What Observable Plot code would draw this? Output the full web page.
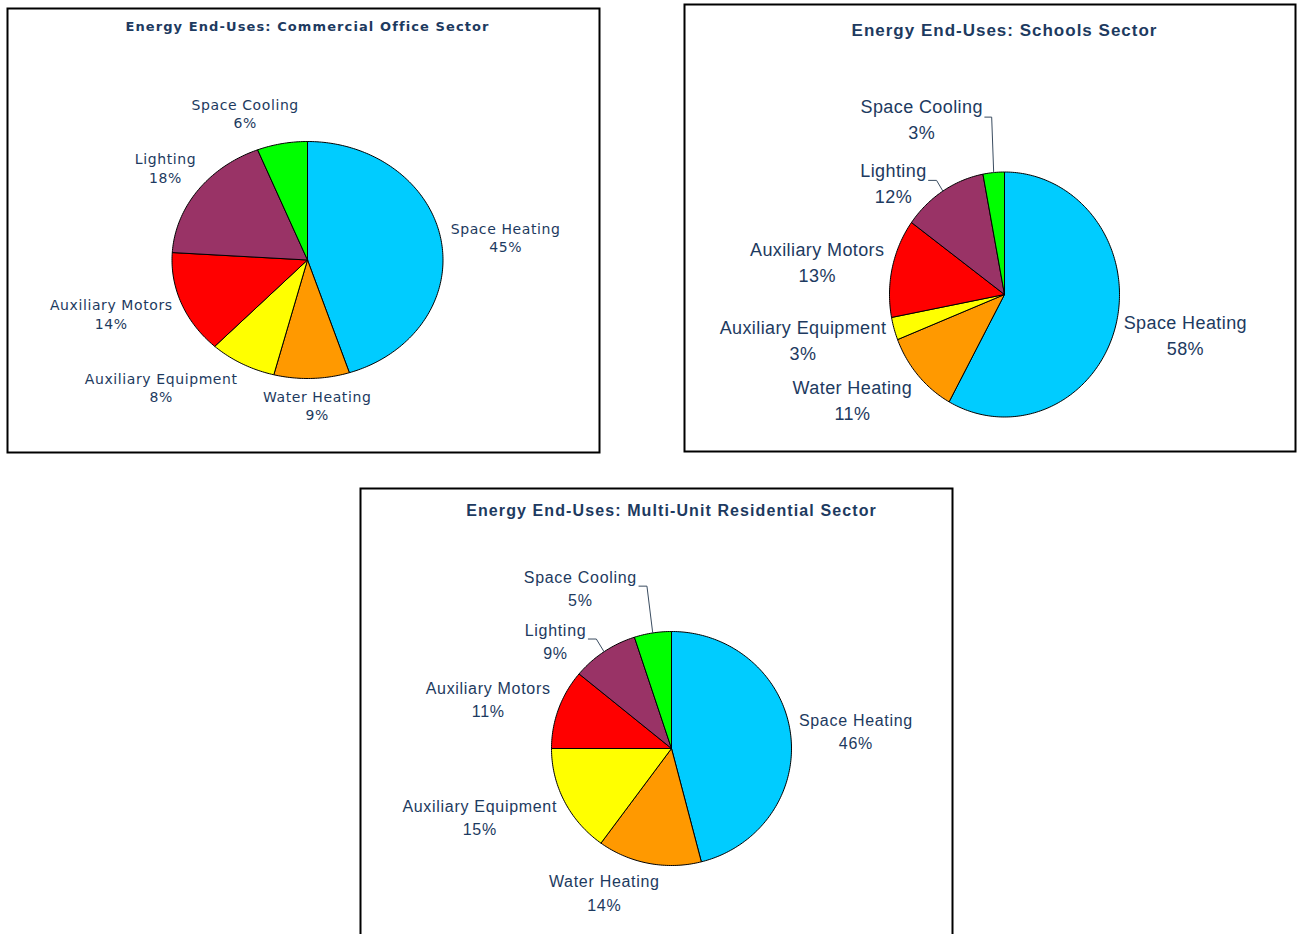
<!DOCTYPE html>
<html><head><meta charset="utf-8">
<script src="https://cdn.jsdelivr.net/npm/d3@7"></script>
<script src="https://cdn.jsdelivr.net/npm/@observablehq/plot@0.6"></script>
<style>
html,body{margin:0;padding:0;background:#fff;overflow:hidden;}
#page{position:relative;width:1297px;height:934px;overflow:hidden;background:#fff;}
#page svg{position:absolute;background:transparent;}
</style></head><body><div id="page"></div>
<script>
// ---- data ----
const categories = ["Space Heating","Water Heating","Auxiliary Equipment","Auxiliary Motors","Lighting","Space Cooling"];
const sliceColors = ["#00CCFF","#FF9900","#FFFF00","#FF0000","#993366","#00FF00"];
const officeValues = [45,9,8,14,18,6];
const schoolsValues = [58,11,3,13,12,3];
const residentialValues = [46,14,15,11,9,5];
const chartTitles = ["Energy End-Uses: Commercial Office Sector","Energy End-Uses: Schools Sector","Energy End-Uses: Multi-Unit Residential Sector"];

// ---- layout / style ----
const textColor = "#1d3a60";
const panels = [
  {values: officeValues, title: chartTitles[0], box:[7,8,599,452], cx:307, cy:259.5, rx:135.5, ry:118.5, titleY:26,
   titleFont:{family:"DejaVu Sans", size:13, weight:"bold", ls:1.1},
   labelFont:{family:"DejaVu Sans", size:14, weight:"normal", ls:0.6, lh:18.5},
   nudge:{"Lighting":[6,-7], "Space Cooling":[-5,-4]}, leaders:false},
  {values: schoolsValues, title: chartTitles[1], box:[684,4,1295,451], cx:1004, cy:294, rx:115, ry:122.5, titleY:30,
   titleFont:{family:"Liberation Sans", size:17, weight:"bold", ls:1.0},
   labelFont:{family:"Liberation Sans", size:18, weight:"normal", ls:0.4, lh:26},
   nudge:{"Space Cooling":[-54,-20], "Lighting":[-12,19.5]}, leaders:true},
  {values: residentialValues, title: chartTitles[2], box:[360,488,952,1000], cx:671, cy:748, rx:120, ry:117, titleY:510,
   titleFont:{family:"Liberation Sans", size:16, weight:"bold", ls:1.1},
   labelFont:{family:"Liberation Sans", size:16, weight:"normal", ls:0.7, lh:23.5},
   nudge:{"Space Cooling":[-44.5,-14.5], "Lighting":[-13,14.5], "Water Heating":[-12,-3]}, leaders:true}
];
const leaderCats = ["Space Cooling","Lighting"];
const labelRadius = 1.07;

const ctx = document.createElement("canvas").getContext("2d");
function measure(str, f){
  ctx.font = `${f.weight} ${f.size}px "${f.family}"`;
  return ctx.measureText(str).width + f.ls*str.length;
}
const clamp = v => Math.max(-1, Math.min(1, v));

const page = document.getElementById("page");
for (const p of panels) {
  const [x0,y0,x1,y1] = p.box;
  const W = x1-x0, H = y1-y0;
  const ox = x0-1, oy = y0-1;
  const sx = p.cx-ox, sy = p.cy-oy;
  const rows = categories.map((c,i)=>({category:c, value:p.values[i]}));
  const arcs = d3.pie().sort(null).value(d=>d.value).startAngle(0).endAngle(2*Math.PI)(rows);

  // slice outlines (unit-circle data coords, scales map to ellipse)
  const slicePts = [];
  for (const a of arcs) {
    const c = a.data.category;
    slicePts.push({category:c, x:0, y:0});
    const n = Math.max(2, Math.ceil((a.endAngle-a.startAngle)/(Math.PI/180)));
    for (let k=0;k<=n;k++){
      const t = a.startAngle + (a.endAngle-a.startAngle)*k/n;
      slicePts.push({category:c, x:Math.sin(t), y:Math.cos(t)});
    }
    slicePts.push({category:c, x:0, y:0});
  }

  // labels
  const f = p.labelFont;
  const toX = px => (px - sx)/p.rx, toY = py => (sy - py)/p.ry;
  const labels = [], leaders = [];
  for (const a of arcs) {
    const c = a.data.category;
    const m = (a.startAngle+a.endAngle)/2;
    const s = Math.sin(m), co = Math.cos(m);
    const text = c + "\n" + a.data.value + "%";
    const w = Math.max(measure(c,f), measure(a.data.value+"%",f));
    const h = 2*f.lh;
    const Px = sx + p.rx*labelRadius*s, Py = sy - p.ry*labelRadius*co;
    let lx = Px + clamp(3*s)*w/2, ly = Py - co*h/2;
    const nd = p.nudge[c];
    if (nd) { lx += nd[0]; ly += nd[1]; }
    if (p.leaders && leaderCats.includes(c)) {
      const startX = lx + w/2 + 2, startY = ly - 1;
      const ax = sx + p.rx*s, ay = sy - p.ry*co;
      const ex = startX + Math.min(8, Math.max(0, ax - startX - 2));
      leaders.push({category:c, x:toX(startX), y:toY(startY)},
                   {category:c, x:toX(ex), y:toY(startY)},
                   {category:c, x:toX(ax), y:toY(ay)});
    }
    labels.push({category:c, text, x:toX(lx), y:toY(ly)});
  }

  const tf = p.titleFont;
  const svg = Plot.plot({
    width: W+2, height: H+2, margin: 1,
    x: {domain:[-1,1], range:[sx-p.rx, sx+p.rx], axis:null},
    y: {domain:[-1,1], range:[sy+p.ry, sy-p.ry], axis:null},
    color: {domain: categories, range: sliceColors},
    style: {background:"transparent", overflow:"visible"},
    marks: [
      Plot.frame({stroke:"#000", strokeWidth:2}),
      Plot.line(slicePts, {x:"x", y:"y", z:"category", fill:"category", stroke:"#000", strokeWidth:1, curve:"linear", strokeLinejoin:"round"}),
      Plot.line(leaders, {x:"x", y:"y", z:"category", stroke:"#3a4c60", strokeWidth:1, curve:"linear"}),
      Plot.text(labels, {x:"x", y:"y", text:"text", fill:textColor, fontFamily:f.family, fontSize:f.size, fontWeight:f.weight,
        lineHeight: f.lh/f.size, textAnchor:"middle", lineAnchor:"middle"}),
      Plot.text([p.title], {x:[0], frameAnchor:"top", dy: p.titleY - y0, text:d=>d, fill:textColor,
        fontFamily:tf.family, fontSize:tf.size, fontWeight:tf.weight, textAnchor:"middle", lineAnchor:"middle"})
    ]
  });
  svg.style.left = ox + "px";
  svg.style.top = oy + "px";
  const tg = svg.querySelectorAll('g[aria-label="text"]');
  if (tg[0]) tg[0].style.letterSpacing = f.ls + "px";
  if (tg[1]) tg[1].style.letterSpacing = tf.ls + "px";
  page.appendChild(svg);
}
</script></body></html>
